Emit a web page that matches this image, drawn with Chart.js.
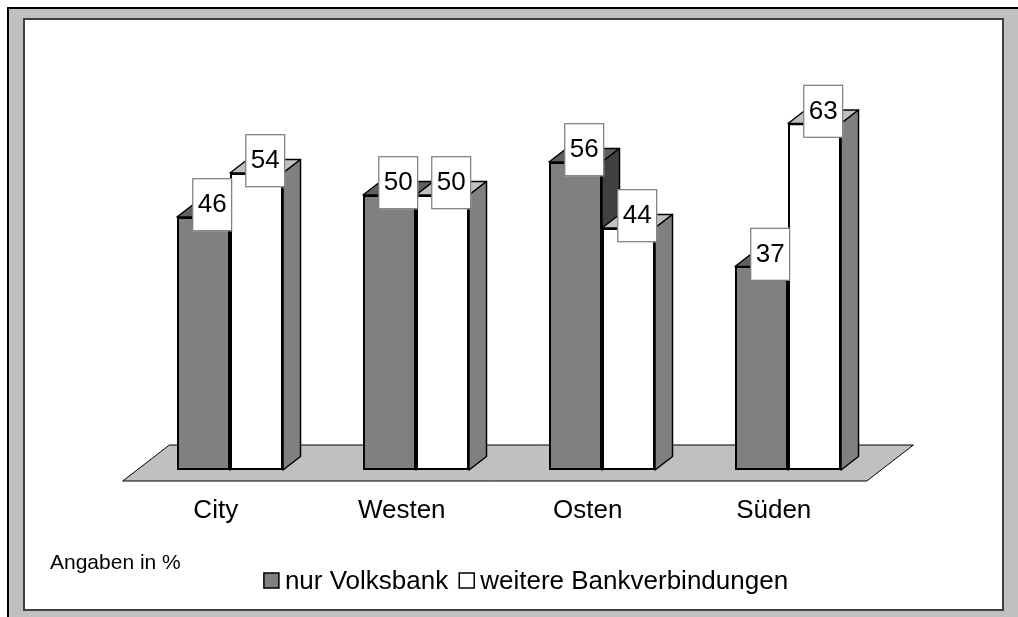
<!DOCTYPE html>
<html>
<head>
<meta charset="utf-8">
<script src="https://cdn.jsdelivr.net/npm/chart.js@4.4.1/dist/chart.umd.min.js"></script>
<style>
  html, body { margin: 0; padding: 0; background: #fff; width: 1018px; height: 617px; overflow: hidden; }
  #frame { position: absolute; left: 7px; top: 7px; width: 1030px; height: 640px; background: #c0c0c0; border-top: 2px solid #000; border-left: 2px solid #000; }
  #panel { position: absolute; left: 23px; top: 18px; width: 981px; height: 593px; box-sizing: border-box; background: #fff; border: 2px solid #404040; }
  #chart { position: absolute; left: 0; top: 0; }
</style>
</head>
<body>
<div id="frame"></div>
<div id="panel"></div>
<canvas id="chart" width="1018" height="617"></canvas>
<script>
const categories = ["City", "Westen", "Osten", "Süden"];
const nurVolksbank = [46, 50, 56, 37];
const weitereBanken = [54, 50, 44, 63];
const seriesNames = ["nur Volksbank", "weitere Bankverbindungen"];
const noteText = "Angaben in %";

const FONT = '"Liberation Sans", Arial, sans-serif';
const DX = 17.5, DY = 13.5; // depth of the fake 3D
const frontColors = ["#808080", "#ffffff"];
const faceColors = [
  { top: "#606060", side: "#404040" },
  { top: "#c0c0c0", side: "#808080" },
];

function poly(ctx, pts, fill) {
  ctx.beginPath();
  ctx.moveTo(pts[0][0], pts[0][1]);
  for (let i = 1; i < pts.length; i++) ctx.lineTo(pts[i][0], pts[i][1]);
  ctx.closePath();
  ctx.fillStyle = fill;
  ctx.fill();
  ctx.stroke();
}

const threeD = {
  id: "threeD",
  beforeDatasetsDraw(chart) {
    const { ctx, chartArea: a } = chart;
    const k = DX / DY;
    const baseY = chart.scales.y.getPixelForValue(0);
    ctx.save();
    ctx.strokeStyle = "#000";
    ctx.lineWidth = 1;
    // floor
    const fy = baseY + 11, by = baseY - 25;
    poly(ctx, [[a.left - 11 * k, fy], [a.right - 11 * k, fy], [a.right + 25 * k, by], [a.left + 25 * k, by]], "#c0c0c0");
    // top and side faces of every bar
    ctx.lineWidth = 1.5;
    ctx.lineJoin = "round";
    categories.forEach((_, i) => {
      chart.data.datasets.forEach((ds, d) => {
        const bar = chart.getDatasetMeta(d).data[i];
        const l = bar.x - bar.width / 2, r = bar.x + bar.width / 2;
        poly(ctx, [[l, bar.y], [l + DX, bar.y - DY], [r + DX, bar.y - DY], [r, bar.y]], faceColors[d].top);
        poly(ctx, [[r, bar.y], [r + DX, bar.y - DY], [r + DX, bar.base - DY], [r, bar.base]], faceColors[d].side);
      });
    });
    ctx.restore();
  },
  afterDatasetsDraw(chart) {
    const { ctx } = chart;
    const k = DX / DY;
    const baseY = chart.scales.y.getPixelForValue(0);
    ctx.save();
    ctx.fillStyle = "#000";
    ctx.textBaseline = "alphabetic";

    // value labels in boxes
    ctx.font = "26px " + FONT;
    ctx.textAlign = "center";
    chart.data.datasets.forEach((ds, d) => {
      chart.getDatasetMeta(d).data.forEach((bar, i) => {
        const txt = String(ds.data[i]);
        const w = ctx.measureText(txt).width + 11, h = 53;
        const cx = bar.x + DX / 2, cy = bar.y - DY / 2 - 5.5;
        ctx.fillStyle = "#fff";
        ctx.fillRect(cx - w / 2, cy - h / 2, w, h);
        ctx.strokeStyle = "#606060";
        ctx.lineWidth = 1;
        ctx.strokeRect(cx - w / 2 + 0.5, cy - h / 2 + 0.5, w - 1, h - 1);
        ctx.fillStyle = "#000";
        ctx.fillText(txt, cx, cy + 7.5);
      });
    });

    // category labels along the front of the floor
    const xs = chart.scales.x;
    categories.forEach((c, i) => {
      ctx.fillText(c, xs.getPixelForValue(i) - 11 * k, baseY + 48);
    });

    // note
    ctx.textAlign = "left";
    ctx.font = "21px " + FONT;
    ctx.fillText(noteText, 50, 569);

    // legend
    ctx.font = "26px " + FONT;
    const box = 15, gapIn = 6, gapOut = 11;
    const widths = seriesNames.map(s => ctx.measureText(s).width);
    const total = widths.reduce((s, w) => s + box + gapIn + w, 0) + gapOut;
    let x = 526 - total / 2;
    seriesNames.forEach((s, d) => {
      ctx.fillStyle = frontColors[d];
      ctx.fillRect(x, 573, box, box);
      ctx.strokeStyle = "#000";
      ctx.lineWidth = 1.5;
      ctx.strokeRect(x, 573, box, box);
      ctx.fillStyle = "#000";
      ctx.fillText(s, x + box + gapIn, 589);
      x += box + gapIn + widths[d] + gapOut;
    });
    ctx.restore();
  }
};

new Chart(document.getElementById("chart"), {
  type: "bar",
  data: {
    labels: categories,
    datasets: [
      { label: seriesNames[0], data: nurVolksbank, backgroundColor: frontColors[0] },
      { label: seriesNames[1], data: weitereBanken, backgroundColor: frontColors[1] },
    ],
  },
  options: {
    responsive: false,
    animation: false,
    layout: { padding: { left: 137, right: 137, top: 85, bottom: 147 } },
    datasets: {
      bar: {
        borderColor: "#000",
        borderWidth: 2,
        borderSkipped: false,
        barPercentage: 1,
        categoryPercentage: 0.57,
      },
    },
    scales: {
      x: { display: false },
      y: { display: false, min: 0, max: 70 },
    },
    plugins: {
      legend: { display: false },
      tooltip: { enabled: false },
    },
  },
  plugins: [threeD],
});
</script>
</body>
</html>
